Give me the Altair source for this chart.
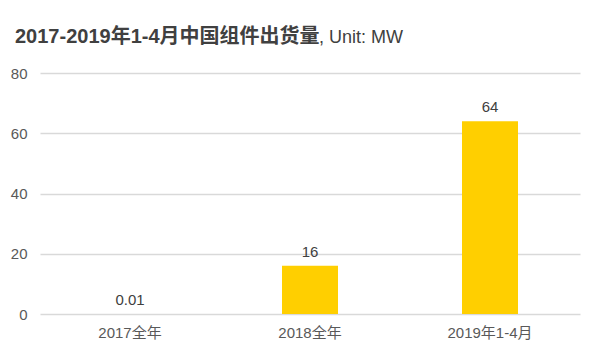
import altair as alt
import pandas as pd

categories = ["2017全年", "2018全年", "2019年1-4月"]
values = [0.01, 16, 64]
labels = ["0.01", "16", "64"]

df = pd.DataFrame({"cat": categories, "val": values, "lab": labels})

font = "Liberation Sans, Arial, Noto Sans CJK SC"

x = alt.X("cat:N", sort=categories, title=None,
          scale=alt.Scale(paddingInner=0, paddingOuter=0),
          axis=alt.Axis(labelAngle=0, labelFontSize=15, labelColor="#595959",
                        labelFont=font, ticks=False, domain=False, labelPadding=11))
y = alt.Y("val:Q", title=None,
          scale=alt.Scale(domain=[0, 80]),
          axis=alt.Axis(values=[0, 20, 40, 60, 80], labelFontSize=15, labelColor="#595959",
                        labelFont=font, ticks=False, domain=False, labelPadding=13,
                        gridColor="#d9d9d9", gridWidth=1.5))

bars = alt.Chart(df).mark_bar(size=56, color="#FFCF00").encode(x=x, y=y)
text = alt.Chart(df).mark_text(baseline="bottom", dy=-6, fontSize=15, color="#404040", font=font).encode(
    x=alt.X("cat:N", sort=categories), y="val:Q", text="lab:N")

title_df = pd.DataFrame({"t": ["2017-2019年1-4月中国组件出货量"]})
unit_df = pd.DataFrame({"t": [", Unit: MW"]})
t1 = alt.Chart(title_df).mark_text(align="left", baseline="alphabetic", fontSize=20, fontWeight="bold",
                                   color="#404040", font=font).encode(
    x=alt.value(-25), y=alt.value(-30), text="t:N")
t2 = alt.Chart(unit_df).mark_text(align="left", baseline="alphabetic", fontSize=18,
                                  color="#404040", font=font).encode(
    x=alt.value(279), y=alt.value(-30), text="t:N")

chart = alt.layer(bars, text, t1, t2).properties(
    width=540, height=241,
    background="white",
    autosize=alt.AutoSizeParams(type="none"),
    padding={"left": 40, "top": 73, "right": 20, "bottom": 44},
).configure_view(stroke=None)

chart.save("out.html", embed_options={"renderer": "svg", "actions": False})
